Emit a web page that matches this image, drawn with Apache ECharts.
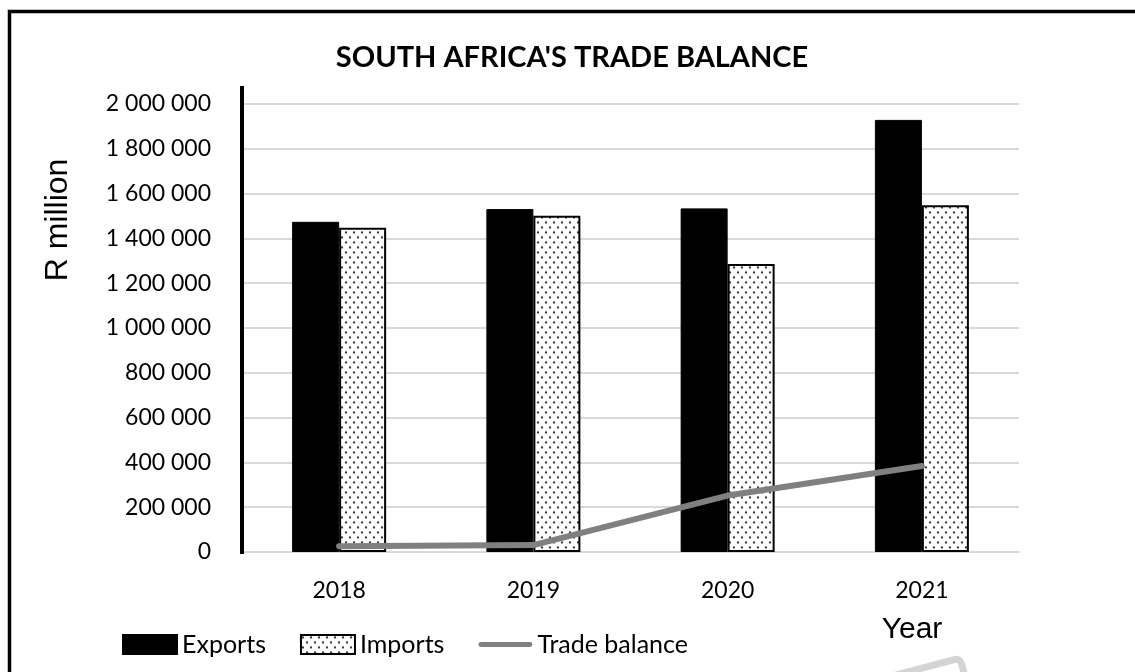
<!DOCTYPE html>
<html>
<head>
<meta charset="utf-8">
<script src="https://cdn.jsdelivr.net/npm/echarts@6/dist/echarts.min.js"></script>
<style>
html,body{margin:0;padding:0;background:#fff;}
#c{width:1135px;height:672px;}
</style>
</head>
<body>
<div id="c"></div>
<script>
var categories = ['2018', '2019', '2020', '2021'];
var exportsData = [1474000, 1531000, 1534000, 1929000];
var importsData = [1447000, 1501000, 1286000, 1548000];
var balanceData = [26000, 31000, 252000, 384000];
var yTicks = { min: 0, max: 2000000, interval: 200000 };

function dotPattern() {
  var cv = document.createElement('canvas');
  cv.width = 8; cv.height = 10;
  var ctx = cv.getContext('2d');
  ctx.fillStyle = '#ffffff';
  ctx.fillRect(0, 0, 8, 10);
  ctx.fillStyle = '#3a3a3a';
  [[2, 2.5], [6, 7.5]].forEach(function (p) {
    ctx.beginPath();
    ctx.arc(p[0], p[1], 1.15, 0, Math.PI * 2);
    ctx.fill();
  });
  return { image: cv, repeat: 'repeat' };
}

function fmt(v) {
  return String(v).replace(/\B(?=(\d{3})+(?!\d))/g, ' ');
}

var chart = echarts.init(document.getElementById('c'));
var pattern = dotPattern();

chart.setOption({
  backgroundColor: '#ffffff',
  animation: false,
  grid: { left: 242, top: 104, width: 777, height: 448, containLabel: false },
  legend: {
    data: [
      { name: 'Exports', icon: 'rect' },
      { name: 'Imports', icon: 'rect' },
      { name: 'Trade balance', icon: 'path://M3,0 L63,0 A3,3 0 0 1 63,6 L3,6 A3,3 0 0 1 3,0 Z' }
    ],
    left: 122, top: 632, padding: 0,
    itemWidth: 54, itemHeight: 19, itemGap: 34,
    symbolKeepAspect: true,
    textStyle: { fontFamily: 'Lato', fontSize: 25, color: '#000' }
  },
  xAxis: {
    type: 'category',
    data: categories,
    axisLine: { show: true, lineStyle: { color: '#d9d9d9', width: 2 } },
    axisTick: { show: false },
    axisLabel: { margin: 27, fontFamily: 'Lato', fontSize: 23, color: '#000' }
  },
  yAxis: {
    type: 'value',
    min: yTicks.min, max: yTicks.max, interval: yTicks.interval,
    axisLine: { show: false },
    axisTick: { show: false },
    splitLine: { lineStyle: { color: '#d9d9d9', width: 2 } },
    axisLabel: { margin: 31, fontFamily: 'Lato', fontSize: 23, color: '#000', formatter: fmt }
  },
  series: [
    {
      name: 'Exports', type: 'bar', data: exportsData,
      barWidth: 47, barGap: '0%',
      itemStyle: { color: '#000', borderColor: '#000', borderWidth: 1 }
    },
    {
      name: 'Imports', type: 'bar', data: importsData,
      barWidth: 47, barGap: '0%',
      itemStyle: { color: pattern, borderColor: '#000', borderWidth: 2 }
    },
    {
      name: 'Trade balance', type: 'line', data: balanceData,
      symbol: 'none', showSymbol: false,
      lineStyle: { color: '#808080', width: 6, cap: 'round', join: 'round' },
      itemStyle: { color: '#808080' },
      z: 5
    }
  ],
  graphic: [
    {
      type: 'rect', silent: true, z: 100,
      shape: { x: 9.5, y: 11.5, width: 1140, height: 720 },
      style: { fill: 'none', stroke: '#000', lineWidth: 3.5 }
    },
    {
      type: 'line', silent: true, z: 50,
      shape: { x1: 242, y1: 86, x2: 242, y2: 554 },
      style: { stroke: '#000', lineWidth: 4 }
    },
    {
      type: 'text', silent: true,
      style: { text: "SOUTH AFRICA'S TRADE BALANCE", x: 572, y: 58, align: 'center', verticalAlign: 'middle',
        font: 'bold 29px Lato', fill: '#000' }
    },
    {
      type: 'text', silent: true,
      x: 58, y: 220, rotation: Math.PI / 2,
      style: { text: 'R million', x: 0, y: 0, align: 'center', verticalAlign: 'middle',
        font: '32px "Liberation Sans", Arial', fill: '#000' }
    },
    {
      type: 'text', silent: true,
      style: { text: 'Year', x: 912, y: 630, align: 'center', verticalAlign: 'middle',
        font: '30px "Liberation Sans", Arial', fill: '#000' }
    },
    {
      type: 'rect', silent: true, z: 60,
      x: 960, y: 658, originX: 0, originY: 0, rotation: 0.26,
      shape: { x: -200, y: 0, width: 200, height: 110, r: 6 },
      style: { fill: 'none', stroke: '#d4d4d4', lineWidth: 7 }
    }
  ]
});
</script>
</body>
</html>
